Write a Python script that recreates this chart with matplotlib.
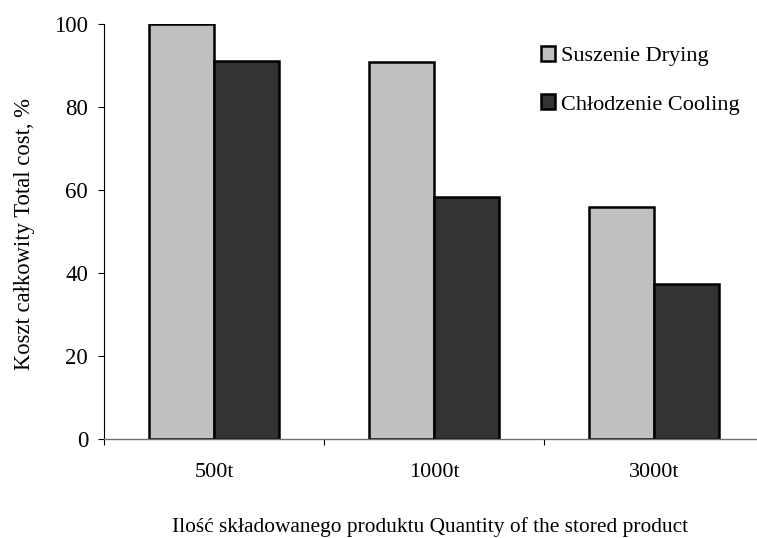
import matplotlib
matplotlib.use("Agg")
import matplotlib.pyplot as plt
import numpy as np
from matplotlib.patches import Patch

categories = ["500t", "1000t", "3000t"]
drying = [100.0, 90.7, 55.8]
cooling = [91.0, 58.2, 37.3]
series_labels = ["Suszenie Drying", "Chłodzenie Cooling"]
yticks = [0, 20, 40, 60, 80, 100]

plt.rcParams['font.family'] = ['Liberation Serif', 'DejaVu Serif']

fig = plt.figure(figsize=(7.57, 5.38), dpi=100)
W, H = 757, 538
ax = fig.add_axes([104 / W, 1 - 439 / H, 660 / W, (439 - 23.5) / H])

x = np.arange(len(categories))
bw = 0.295
c_light = "#C0C0C0"
c_dark = "#333333"
ax.bar(x - bw / 2, drying, width=bw, color=c_light, edgecolor="black", linewidth=1.8, zorder=3)
ax.bar(x + bw / 2, cooling, width=bw, color=c_dark, edgecolor="black", linewidth=1.8, zorder=3)

ax.set_xlim(-0.5, len(categories) - 0.5)
ax.set_ylim(0, 100)
ax.set_yticks(yticks)
ax.set_yticklabels([str(v) for v in yticks], fontsize=16.5)
ax.set_xticks(x)
ax.set_xticklabels(categories, fontsize=16)
ax.set_xticks(np.arange(-0.5, len(categories), 1.0), minor=True)
ax.tick_params(axis='x', which='major', length=0, pad=17.5)
ax.tick_params(axis='x', which='minor', length=4.5, width=0.8, direction='out', color='black')
ax.tick_params(axis='y', which='major', length=4.5, width=0.8, direction='out', pad=7)

for s in ['top', 'right']:
    ax.spines[s].set_visible(False)
ax.spines['left'].set_linewidth(0.8)
ax.spines['left'].set_color('black')
ax.spines['bottom'].set_linewidth(1.0)
ax.spines['bottom'].set_color('#707070')
ax.spines['bottom'].set_zorder(4)

ax.set_ylabel("Koszt całkowity Total cost, %", fontsize=16.3)
ax.yaxis.set_label_coords(-(104 - 35) / 660, 0.493)
fig.text(430 / W, 1 - 527 / H, "Ilość składowanego produktu Quantity of the stored product",
         fontsize=15.4, ha='center', va='center')

handles = [Patch(facecolor=c_light, edgecolor='black', linewidth=1.8),
           Patch(facecolor=c_dark, edgecolor='black', linewidth=1.8)]
ax.legend(handles, series_labels, loc='upper left', bbox_to_anchor=(541 / W, 1 - 46 / H),
          bbox_transform=fig.transFigure, frameon=False, fontsize=16,
          handlelength=0.65, handleheight=0.65, handletextpad=0.25, labelspacing=1.27,
          borderaxespad=0, borderpad=0)

fig.savefig("out.png", dpi=100)
